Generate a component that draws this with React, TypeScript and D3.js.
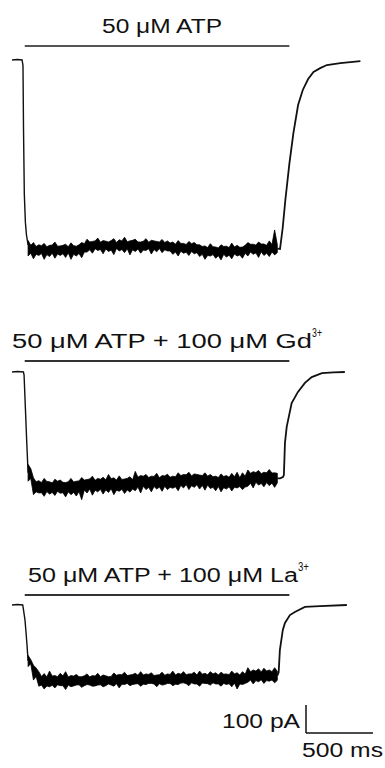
import React from "react";
import * as d3 from "d3";

// ---- Data (time in ms, current in pA) ----
const titles = ["50 μM ATP", "50 μM ATP + 100 μM Gd", "50 μM ATP + 100 μM La"];
const superscripts = ["", "3+", "3+"];
const applicationStart = 95;
const applicationEnd = 2070;
const scaleBarTime = 500;
const scaleBarCurrent = 100;
const scaleBarTimeLabel = "500 ms";
const scaleBarCurrentLabel = "100 pA";

// noisy plateau: upper and lower envelope of the recorded current
const noiseTimes = [120,140,160,180,200,220,240,260,280,300,320,340,360,380,400,420,440,460,480,500,520,540,560,580,600,620,640,660,680,700,720,740,760,780,800,820,840,860,880,900,920,940,960,980,1000,1020,1040,1060,1080,1100,1120,1140,1160,1180,1200,1220,1240,1260,1280,1300,1320,1340,1360,1380,1400,1420,1440,1460,1480,1500,1520,1540,1560,1580,1600,1620,1640,1660,1680,1700,1720,1740,1760,1780,1800,1820,1840,1860,1880,1900,1920,1940,1960,1980];

const trace1Upper = [-645,-662,-652,-666,-660,-663,-655,-667,-662,-661,-650,-665,-664,-662,-658,-667,-653,-663,-665,-660,-652,-656,
  -640,-650,-648,-646,-636,-651,-645,-647,-650,-645,-638,-652,-642,-646,-633,-649,-646,-644,-640,-650,-650,-647,-638,-651,-644,-646,-648,-650,-641,-652,
  -646,-654,-650,-658,-645,-655,-655,-659,-648,-656,-652,-660,
  -660,-666,-664,-670,-656,-667,-668,-671,-660,-666,-665,-670,-654,-668,-662,-669,
  -668,-662,-652,-658,-658,-661,-650,-657,-657,-662,-646,-659,-607,-660];
const trace1Lower = [-700,-690,-710,-694,-698,-691,-712,-695,-702,-690,-708,-693,-698,-692,-705,-689,-712,-694,-700,-691,-706,-686,
  -686,-678,-690,-674,-680,-677,-692,-675,-684,-679,-695,-673,-682,-677,-688,-674,-696,-678,-684,-675,-690,-679,-680,-674,-693,-677,-685,-673,-688,-678,
  -682,-682,-694,-686,-700,-683,-690,-687,-698,-684,-692,-688,
  -702,-694,-712,-698,-700,-695,-708,-699,-714,-694,-704,-697,-710,-693,-700,-696,
  -708,-690,-700,-686,-694,-689,-705,-685,-698,-690,-702,-686,-696,-688];
const trace1OnsetTimes = [0, 40, 75, 82, 86, 92, 100, 108, 120];
const trace1OnsetCurrent = [0, 2, 0, -20, -250, -480, -580, -625, -660];
const trace1OffsetTimes = [1980, 2000, 2020, 2040, 2070, 2100, 2135, 2170, 2210, 2250, 2300, 2350, 2450, 2600];
const trace1OffsetCurrent = [-674, -675, -600, -500, -370, -261, -161, -107, -68, -43, -29, -18, -11, -4];

const trace2Upper = [-330,-345,
  -378,-392,-388,-395,-380,-391,-392,-396,-383,-390,-386,-394,-395,-392,-380,-393,-390,-389,
  -377,-386,-384,-382,-372,-387,-380,-383,-376,-385,-366,-381,-378,-386,-371,-384,-382,-380,-374,-385,
  -355,-376,-370,-372,-366,-377,-372,-373,-362,-378,-370,-371,-365,-376,-372,-374,
  -360,-370,-366,-367,-358,-371,-364,-366,-368,-370,-360,-372,
  -366,-374,-372,-377,-364,-373,-370,-376,-362,-374,-358,-378,-360,-372,
  -350,-362,-356,-359,-352,-363,-358,-360,-348,-361,-360,-362];
const trace2Lower = [-390,-380,
  -438,-428,-432,-431,-444,-427,-436,-430,-441,-426,-433,-431,-446,-428,-438,-430,-443,-427,
  -456,-421,-432,-418,-440,-422,-428,-419,-436,-421,-430,-417,-438,-422,-426,-419,-434,-421,-429,-418,
  -424,-411,-432,-408,-420,-412,-428,-409,-418,-411,-426,-408,-420,-412,-415,-410,
  -424,-405,-414,-402,-420,-406,-412,-403,-418,-405,-422,-404,
  -416,-412,-424,-409,-428,-413,-418,-410,-425,-412,-414,-409,-420,-411,
  -408,-397,-414,-394,-404,-398,-410,-395,-406,-397,-412,-396];
const trace2OnsetTimes = [0, 40, 85, 90, 100, 110, 120];
const trace2OnsetCurrent = [0, 2, 0, -10, -130, -250, -360];
const trace2OffsetTimes = [1980, 2000, 2022, 2029, 2037, 2050, 2087, 2134, 2186, 2237, 2313, 2400, 2484];
const trace2OffsetCurrent = [-380, -380, -375, -368, -253, -196, -111, -71, -39, -18, -4, -1, 0];

const trace3Upper = [-180,-195,-215,-225,
  -238,-255,-245,-257,-236,-254,
  -252,-256,-244,-253,-238,-257,-252,-254,-248,-256,-256,-253,-246,-257,-252,-254,-244,-256,-250,-253,-256,-255,
  -243,-251,-248,-249,-240,-252,-250,-248,-244,-251,-238,-250,-246,-248,-242,-252,-250,-249,-240,-251,-246,-248,-236,-250,
  -244,-247,-238,-249,-246,-246,-240,-250,-236,-247,-244,-249,-238,-246,-242,-250,-240,-247,-246,-249,-236,-246,-242,-250,-238,-247,
  -224,-238,-232,-236,-228,-239,-226,-236,-232,-238,-224,-237];
const trace3Lower = [-220,-210,-268,-255,
  -290,-286,-300,-289,-292,-287,
  -296,-285,-288,-288,-302,-286,-292,-289,-286,-285,-294,-288,-284,-286,-290,-289,-286,-285,-292,-288,-282,-286,
  -290,-281,-296,-283,-284,-280,-288,-284,-282,-281,-290,-283,-284,-280,-280,-282,-292,-281,-286,-284,-280,-280,-288,-283,
  -284,-279,-278,-281,-288,-278,-282,-282,-290,-279,-280,-281,-286,-278,-282,-282,-290,-280,-284,-281,-292,-279,-300,-282,-284,-280,
  -276,-268,-282,-270,-274,-267,-280,-270,-272,-268,-278,-269];
const trace3OnsetTimes = [0, 40, 80, 85, 97, 105, 112, 120];
const trace3OnsetCurrent = [0, 2, 0, -15, -54, -100, -143, -200];
const trace3OffsetTimes = [1980, 1990, 1999, 2021, 2037, 2074, 2111, 2186, 2298, 2499];
const trace3OffsetCurrent = [-252, -240, -161, -89, -64, -36, -25, -7, -4, 0];

const traces = [
  { upper: trace1Upper, lower: trace1Lower, onT: trace1OnsetTimes, onI: trace1OnsetCurrent, offT: trace1OffsetTimes, offI: trace1OffsetCurrent },
  { upper: trace2Upper, lower: trace2Lower, onT: trace2OnsetTimes, onI: trace2OnsetCurrent, offT: trace2OffsetTimes, offI: trace2OffsetCurrent },
  { upper: trace3Upper, lower: trace3Lower, onT: trace3OnsetTimes, onI: trace3OnsetCurrent, offT: trace3OffsetTimes, offI: trace3OffsetCurrent },
];

// layout
const W = 385, H = 768;
const baselines = [60, 372, 605];
const barYs = [46, 361, 595];
const titleLayout = [
  { x: 102, y: 33, len: 120, size: 20.5, supX: 0, supY: 0, supLen: 0 },
  { x: 12, y: 348, len: 300, size: 20, supX: 312, supY: 337, supLen: 10 },
  { x: 28, y: 582, len: 270, size: 20, supX: 298, supY: 571, supLen: 11 },
];
const FONT = "'Liberation Sans', Arial, Helvetica, sans-serif";

export default function App() {
  const x = d3.scaleLinear().domain([0, 2600]).range([12, 12 + 2600 * 0.134]);
  const pxPer100 = 28;

  return (
    <svg width={W} height={H} style={{ position: "absolute", left: 0, top: 0, background: "#fff" }}>
      {traces.map((tr, k) => {
        const base = baselines[k];
        const y = d3.scaleLinear().domain([-scaleBarCurrent, 0]).range([base + pxPer100, base]);
        const band = d3.area<number>()
          .x((t) => x(t))
          .y0((_, i) => y(tr.lower[i]))
          .y1((_, i) => y(tr.upper[i]));
        const onset = d3.line<number>().x((_, i) => x(tr.onT[i])).y((_, i) => y(tr.onI[i]));
        const offset = d3.line<number>().x((_, i) => x(tr.offT[i])).y((_, i) => y(tr.offI[i]));
        const tl = titleLayout[k];
        return (
          <g key={k}>
            <text x={tl.x} y={tl.y} fontFamily={FONT} fontSize={tl.size} fill="#111"
              textLength={tl.len} lengthAdjust="spacingAndGlyphs">{titles[k]}</text>
            {superscripts[k] && (
              <text x={tl.supX} y={tl.supY} fontFamily={FONT} fontSize={13} fill="#111"
                textLength={tl.supLen} lengthAdjust="spacingAndGlyphs">{superscripts[k]}</text>
            )}
            <line x1={x(applicationStart)} x2={x(applicationEnd)} y1={barYs[k]} y2={barYs[k]}
              stroke={k === 0 ? "#555" : "#333"} strokeWidth={2} />
            <path d={onset(tr.onT) || ""} fill="none" stroke="#111" strokeWidth={1.4} />
            <path d={band(noiseTimes) || ""} fill="#000" stroke="#000" strokeWidth={0.8} strokeLinejoin="bevel" />
            <path d={offset(tr.offT) || ""} fill="none" stroke="#111" strokeWidth={1.8} />
          </g>
        );
      })}
      {(() => {
        const sx0 = 306, sy = 733;
        const y = d3.scaleLinear().domain([0, scaleBarCurrent]).range([sy, sy - pxPer100]);
        const len = x(scaleBarTime) - x(0);
        return (
          <g>
            <line x1={sx0} x2={sx0} y1={y(0)} y2={y(scaleBarCurrent)} stroke="#111" strokeWidth={1.5} />
            <line x1={sx0} x2={sx0 + len} y1={sy} y2={sy} stroke="#111" strokeWidth={1.5} />
            <text x={222} y={728} fontFamily={FONT} fontSize={19.5} fill="#111" textLength={78} lengthAdjust="spacingAndGlyphs">{scaleBarCurrentLabel}</text>
            <text x={302} y={757} fontFamily={FONT} fontSize={19.5} fill="#111" textLength={81} lengthAdjust="spacingAndGlyphs">{scaleBarTimeLabel}</text>
          </g>
        );
      })()}
    </svg>
  );
}
